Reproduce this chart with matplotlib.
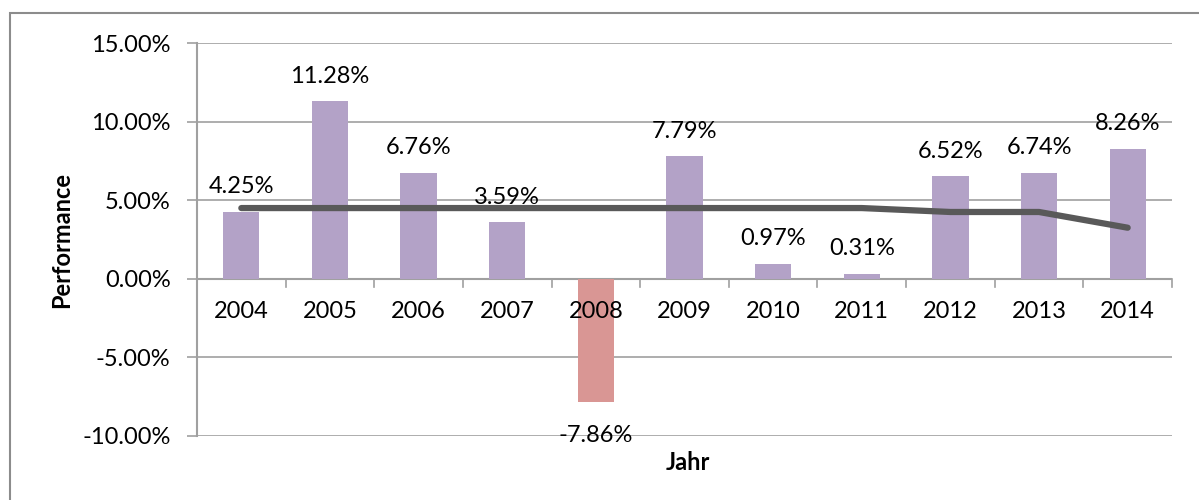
import matplotlib.pyplot as plt
import numpy as np
from matplotlib.patches import Rectangle

plt.rcParams['font.family'] = ['Lato', 'DejaVu Sans']

years = ['2004', '2005', '2006', '2007', '2008', '2009', '2010', '2011', '2012', '2013', '2014']
performance = [4.25, 11.28, 6.76, 3.59, -7.86, 7.79, 0.97, 0.31, 6.52, 6.74, 8.26]
average = [4.5, 4.5, 4.5, 4.5, 4.5, 4.5, 4.5, 4.5, 4.25, 4.25, 3.25]

purple = '#b3a2c7'
red = '#d99694'
grid_col = '#a0a0a0'
fs = 17

fig = plt.figure(figsize=(11.99, 5.0), dpi=100)
ax = fig.add_axes([197 / 1199, 64 / 500, 975 / 1199, 393 / 500])

x = np.arange(len(years))
colors = [red if v < 0 else purple for v in performance]
ax.bar(x, performance, width=0.41, color=colors, zorder=2)
ax.plot(x, average, color='#595959', lw=4.5, solid_capstyle='round', zorder=3)

for xi, v in zip(x, performance):
    if v >= 0:
        ax.annotate(f'{v:.2f}%', (xi, v), xytext=(0, 18), textcoords='offset points',
                    ha='center', va='center', fontsize=fs, zorder=4)
    else:
        ax.annotate(f'{v:.2f}%', (xi, v), xytext=(0, -24), textcoords='offset points',
                    ha='center', va='center', fontsize=fs, zorder=4)

ax.set_xlim(-0.5, len(years) - 0.5)
ax.set_ylim(-10, 15)
ax.set_yticks([-10, -5, 0, 5, 10, 15])
ax.set_yticklabels([f'{t:.2f}%' for t in [-10, -5, 0, 5, 10, 15]], fontsize=fs)
ax.yaxis.grid(True, color=grid_col, lw=1.2, zorder=0)
ax.tick_params(axis='y', length=7, color=grid_col, width=1.2, pad=12)

for s in ['top', 'right', 'bottom']:
    ax.spines[s].set_visible(False)
ax.spines['left'].set_color(grid_col)
ax.spines['left'].set_linewidth(1.5)

# category axis at zero with ticks between categories
ax.set_xticks([])
ax.axhline(0, color=grid_col, lw=1.5, zorder=1)
for b in np.arange(-0.5, len(years), 1.0):
    ax.plot([b, b], [0, -0.5], color=grid_col, lw=1.2, zorder=1, clip_on=False)
for xi, yr in zip(x, years):
    ax.text(xi, -2.1, yr, ha='center', va='center', fontsize=fs, zorder=5)

fig.text(62 / 1199, 1 - 240 / 500, 'Performance', rotation=90, ha='center', va='center',
         fontsize=17, fontweight='bold')
fig.text(688 / 1199, 1 - 462 / 500, 'Jahr', ha='center', va='center',
         fontsize=17, fontweight='bold')

fig.patches.append(Rectangle((10 / 1199, -0.1), 1.2, 1 - 13 / 500 + 0.1, transform=fig.transFigure,
                             fill=False, edgecolor='#8c8c8c', lw=1.5))

fig.savefig('out.png', dpi=100)
